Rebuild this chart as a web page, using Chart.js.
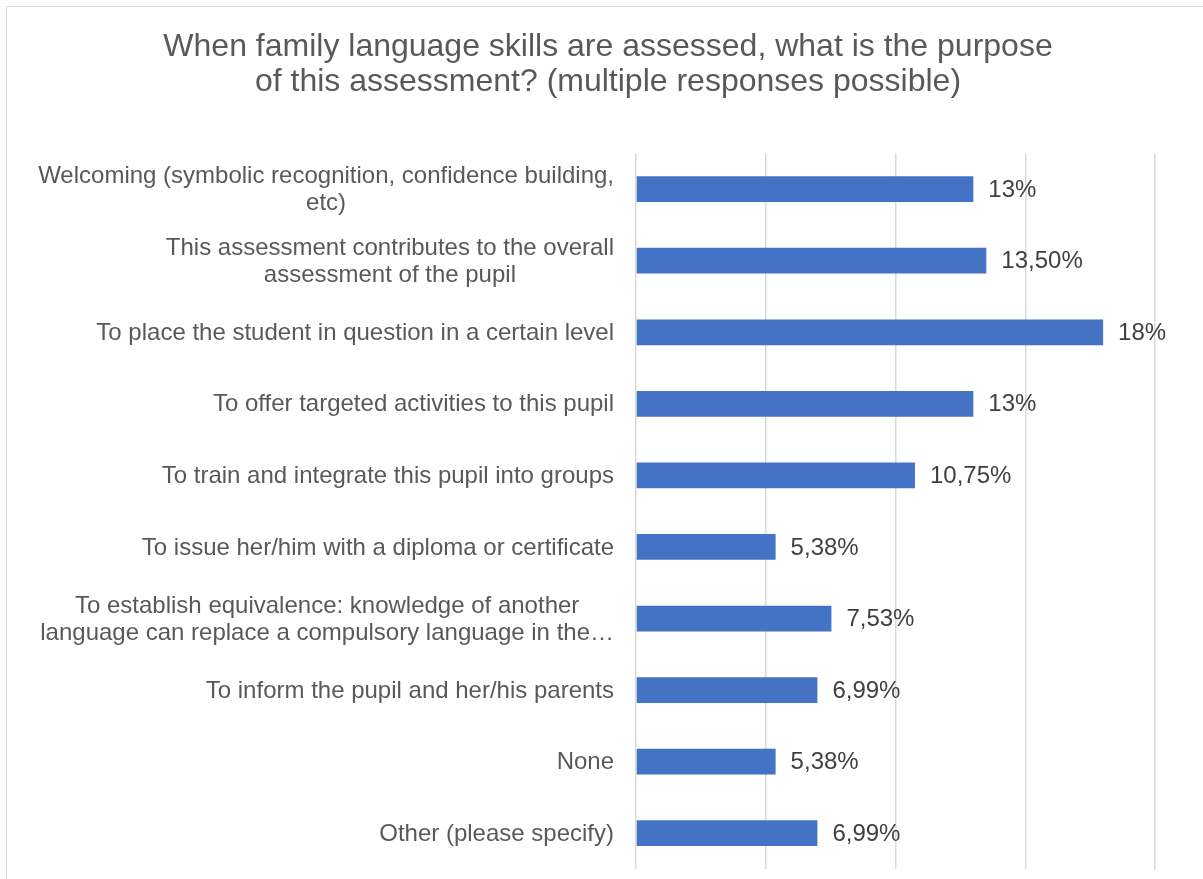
<!DOCTYPE html>
<html>
<head>
<meta charset="utf-8">
<script src="https://cdn.jsdelivr.net/npm/chart.js@4/dist/chart.umd.min.js"></script>
<style>
  body { margin: 0; background: #fff; overflow: hidden; }
  #wrap { position: relative; width: 1203px; height: 879px; }
  #frame { position: absolute; left: 6px; top: 6px; width: 1400px; height: 1100px; border: 1px solid #d9d9d9; }
  canvas { position: absolute; left: 0; top: 0; }
</style>
</head>
<body>
<div id="wrap">
  <div id="frame"></div>
  <canvas id="chart" width="1203" height="879"></canvas>
</div>
<script>
const titleLines = [
  'When family language skills are assessed, what is the purpose',
  'of this assessment? (multiple responses possible)'
];

const categories = [
  ['Welcoming (symbolic recognition, confidence building,', 'etc)'],
  ['This assessment contributes to the overall', 'assessment of the pupil'],
  ['To place the student in question in a certain level'],
  ['To offer targeted activities to this pupil'],
  ['To train and integrate this pupil into groups'],
  ['To issue her/him with a diploma or certificate'],
  ['To establish equivalence: knowledge of another', 'language can replace a compulsory language in the\u2026'],
  ['To inform the pupil and her/his parents'],
  ['None'],
  ['Other (please specify)']
];

const shares = [13, 13.5, 18, 13, 10.75, 5.38, 7.53, 6.99, 5.38, 6.99];

const xMin = 0;
const xMax = 20;
const xStep = 5;

const FONT = '"Liberation Sans", Arial, sans-serif';

function pct(v) {
  if (Number.isInteger(v)) return v + '%';
  return v.toFixed(2).replace('.', ',') + '%';
}

// category labels: block right-aligned against the axis, lines centred inside the block
const categoryLabels = {
  id: 'categoryLabels',
  afterDraw(chart) {
    const ctx = chart.ctx;
    const y = chart.scales.y;
    const right = chart.chartArea.left - 22;
    const lh = 27;
    ctx.save();
    ctx.font = '24px ' + FONT;
    ctx.fillStyle = '#595959';
    ctx.textAlign = 'center';
    ctx.textBaseline = 'middle';
    categories.forEach((lines, i) => {
      const cy = y.getPixelForTick(i);
      const w = Math.max(...lines.map(l => ctx.measureText(l).width));
      const cx = right - w / 2;
      lines.forEach((l, j) => {
        ctx.fillText(l, cx, cy + 1 + (j - (lines.length - 1) / 2) * lh);
      });
    });
    ctx.restore();
  }
};

// value labels at the end of each bar
const valueLabels = {
  id: 'valueLabels',
  afterDatasetsDraw(chart) {
    const ctx = chart.ctx;
    const meta = chart.getDatasetMeta(0);
    ctx.save();
    ctx.font = '24px ' + FONT;
    ctx.fillStyle = '#404040';
    ctx.textAlign = 'left';
    ctx.textBaseline = 'middle';
    meta.data.forEach((bar, i) => {
      ctx.fillText(pct(shares[i]), bar.x + 15, bar.y + 1);
    });
    ctx.restore();
  }
};

new Chart(document.getElementById('chart'), {
  type: 'bar',
  data: {
    labels: categories,
    datasets: [{
      data: shares,
      backgroundColor: '#4472c4',
      borderWidth: 0,
      barPercentage: 0.36,
      categoryPercentage: 1
    }]
  },
  options: {
    indexAxis: 'y',
    responsive: false,
    animation: false,
    devicePixelRatio: 1,
    layout: { padding: { left: 61, right: 48, top: 0, bottom: 10 } },
    plugins: {
      legend: { display: false },
      tooltip: { enabled: false },
      title: {
        display: true,
        text: titleLines,
        color: '#595959',
        font: { family: FONT, size: 32, weight: 'normal', lineHeight: 1.1 },
        padding: { top: 29.5, bottom: 53.5 }
      }
    },
    scales: {
      x: {
        min: xMin,
        max: xMax,
        ticks: { display: false, stepSize: xStep },
        grid: { color: '#d9d9d9', lineWidth: 1.5, drawTicks: false },
        border: { display: false }
      },
      y: {
        ticks: { display: false },
        grid: { display: false, drawTicks: false },
        border: { display: false },
        afterFit(scale) { scale.width = 575; }
      }
    }
  },
  plugins: [categoryLabels, valueLabels]
});
</script>
</body>
</html>
